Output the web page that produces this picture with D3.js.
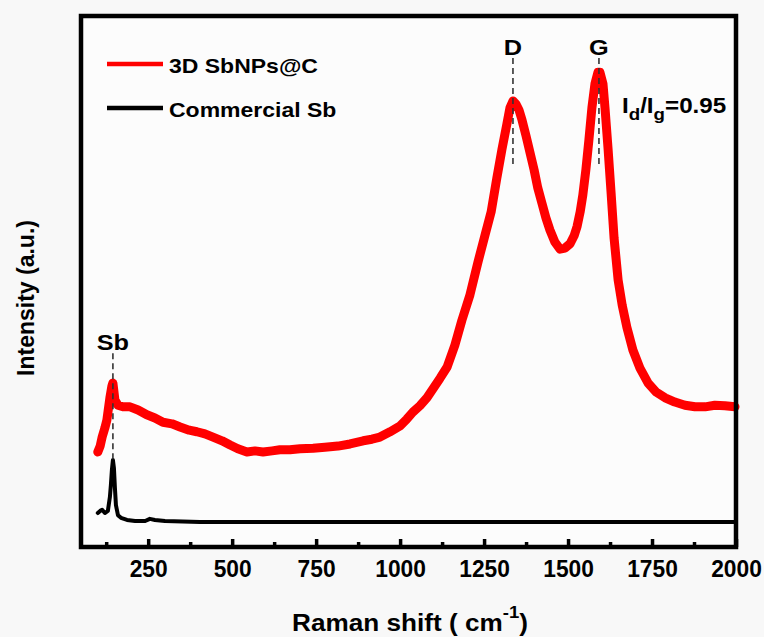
<!DOCTYPE html>
<html>
<head>
<meta charset="utf-8">
<script src="https://cdn.jsdelivr.net/npm/d3@7"></script>
<style>
  html, body { margin: 0; padding: 0; background: #f8f8f8; }
  svg { display: block; }
  text { font-family: "Liberation Sans", Arial, sans-serif; font-weight: bold; fill: #000; }
</style>
</head>
<body>
<svg id="chart" width="764" height="637"></svg>
<script>
// Raman spectrum of 3D SbNPs@C (red) and commercial Sb (black)
const ramanShift = [100, 107, 113, 121, 127, 136, 142, 145, 151, 160, 175, 196, 220, 246, 270, 294, 321, 345, 372, 395,
  419, 443, 470, 494, 517, 544, 568, 592, 619, 642, 672, 702, 741, 776, 815, 851, 890, 916, 940, 970,
  1000, 1020, 1038, 1059, 1080, 1098, 1119, 1140, 1163, 1184, 1208, 1232, 1253, 1271, 1288, 1303, 1318, 1327, 1336, 1345,
  1354, 1363, 1375, 1387, 1399, 1410, 1422, 1434, 1446, 1461, 1476, 1491, 1506, 1518, 1527, 1536, 1544, 1553, 1562, 1571,
  1580, 1589, 1595, 1604, 1610, 1619, 1628, 1637, 1649, 1661, 1675, 1693, 1714, 1738, 1762, 1789, 1818, 1848, 1878, 1908,
  1937, 1967, 1997];
const sbNPsC = [179, 190, 207, 224, 239, 281, 303, 309, 277, 267, 264, 264, 258, 249, 243, 235, 232, 226, 220, 217,
  213, 207, 200, 192, 185, 179, 181, 179, 181, 183, 183, 185, 186, 188, 190, 194, 200, 203, 207, 217,
  228, 241, 254, 266, 281, 298, 318, 339, 380, 427, 475, 537, 588, 631, 695, 748, 797, 827, 840, 834,
  823, 804, 774, 742, 710, 676, 648, 620, 597, 574, 561, 563, 571, 586, 604, 631, 663, 710, 766, 827,
  872, 894, 894, 872, 827, 751, 668, 582, 503, 456, 414, 371, 337, 309, 292, 281, 273, 267, 264, 264,
  267, 266, 264];

const commercialShift = [100, 107, 113, 121, 130, 136, 139, 142, 145, 148, 151, 154, 160, 169, 187, 211, 241, 255, 270, 300,
  404, 600, 800, 1000, 1200, 1400, 1600, 1800, 2000];
const commercialSb = [64, 68, 70, 64, 68, 94, 117, 145, 164, 149, 111, 79, 60, 55, 51, 49, 49, 53, 51, 49,
  47, 47, 47, 47, 47, 47, 47, 47, 47];

// Band assignments: position (cm-1), label, marker top and bottom (a.u.)
const peakNames = ["Sb", "D", "G"];
const peakShift = [145, 1336, 1592];
const peakTop = [365, 921, 921];
const peakBottom = [164, 716, 719];

const majorTicks = [250, 500, 750, 1000, 1250, 1500, 1750, 2000];
const minorTicks = [125, 375, 625, 875, 1125, 1375, 1625, 1875];

const seriesNames = ["3D SbNPs@C", "Commercial Sb"];
const seriesColors = ["#ff0000", "#000000"];

const svg = d3.select("#chart");
const plot = { left: 81, right: 736, top: 16, bottom: 547 };

const x = d3.scaleLinear().domain([50, 2000]).range([plot.left, plot.right]);
const y = d3.scaleLinear().domain([0, 1000]).range([plot.bottom, plot.top]);

svg.append("rect").attr("x", plot.left).attr("y", plot.top)
  .attr("width", plot.right - plot.left).attr("height", plot.bottom - plot.top)
  .attr("fill", "#fcfcfc");

const line = d3.line().x(d => x(d[0])).y(d => y(d[1]));

svg.append("path")
  .datum(d3.zip(commercialShift, commercialSb))
  .attr("d", line).attr("fill", "none")
  .attr("stroke", seriesColors[1]).attr("stroke-width", 4)
  .attr("stroke-linejoin", "round").attr("stroke-linecap", "round");

svg.append("path")
  .datum(d3.zip(ramanShift, sbNPsC))
  .attr("d", line).attr("fill", "none")
  .attr("stroke", seriesColors[0]).attr("stroke-width", 9)
  .attr("stroke-linejoin", "round").attr("stroke-linecap", "round");

// Dashed band markers and their labels
peakNames.forEach((name, i) => {
  const px = x(peakShift[i]);
  svg.append("line")
    .attr("x1", px).attr("x2", px)
    .attr("y1", y(peakTop[i])).attr("y2", y(peakBottom[i]))
    .attr("stroke", "#333").attr("stroke-width", 1.6)
    .attr("stroke-dasharray", "6,4");
  svg.append("text")
    .attr("transform", `translate(${px},${y(peakTop[i]) - 3}) scale(1.15,1)`)
    .attr("text-anchor", "middle").attr("font-size", 22)
    .text(name);
});

// Intensity ratio annotation
const ratio = svg.append("text").attr("font-size", 22)
  .attr("transform", "translate(622,113) scale(1.1,1)");
ratio.append("tspan").text("I");
ratio.append("tspan").attr("font-size", 17).attr("dy", 7).text("d");
ratio.append("tspan").attr("dy", -7).text("/I");
ratio.append("tspan").attr("font-size", 17).attr("dy", 7).text("g");
ratio.append("tspan").attr("dy", -7).text("=0.95");

// Bottom axis: inward major and minor ticks
const axisG = svg.append("g").attr("transform", `translate(0,${plot.bottom})`)
  .call(d3.axisBottom(x).tickValues(majorTicks).tickFormat(d3.format("d"))
    .tickSizeInner(-8).tickSizeOuter(0).tickPadding(13));
axisG.select(".domain").remove();
axisG.selectAll(".tick line").attr("stroke", "#000").attr("stroke-width", 3.5);
axisG.selectAll(".tick text")
  .attr("font-size", 24).attr("font-family", "Liberation Sans, Arial, sans-serif")
  .attr("font-weight", "bold").attr("fill", "#000")
  .attr("transform", "scale(0.95,1)");

const minorG = svg.append("g").attr("transform", `translate(0,${plot.bottom})`)
  .call(d3.axisBottom(x).tickValues(minorTicks).tickSizeInner(-5).tickSizeOuter(0).tickFormat(""));
minorG.select(".domain").remove();
minorG.selectAll(".tick line").attr("stroke", "#000").attr("stroke-width", 3.5);

// Frame
svg.append("rect").attr("x", plot.left).attr("y", plot.top)
  .attr("width", plot.right - plot.left).attr("height", plot.bottom - plot.top)
  .attr("fill", "none").attr("stroke", "#000").attr("stroke-width", 4.5);

// Axis titles
const xt = svg.append("text")
  .attr("transform", "translate(410,631) scale(1.09,1)")
  .attr("text-anchor", "middle").attr("font-size", 24);
xt.append("tspan").text("Raman shift ( cm");
xt.append("tspan").attr("font-size", 17).attr("dy", -13).text("-1");
xt.append("tspan").attr("dy", 13).text(")");

svg.append("text")
  .attr("transform", "translate(34,298) rotate(-90)")
  .attr("text-anchor", "middle").attr("font-size", 23)
  .text("Intensity (a.u.)");

// Legend
const legend = svg.append("g");
seriesNames.forEach((name, i) => {
  const ly = 64 + i * 44;
  legend.append("line").attr("x1", 107).attr("x2", 163).attr("y1", ly).attr("y2", ly)
    .attr("stroke", seriesColors[i]).attr("stroke-width", 4.5);
  legend.append("text")
    .attr("transform", `translate(169,${ly + 9}) scale(1.15,1)`)
    .attr("font-size", 20).text(name);
});
</script>
</body>
</html>
